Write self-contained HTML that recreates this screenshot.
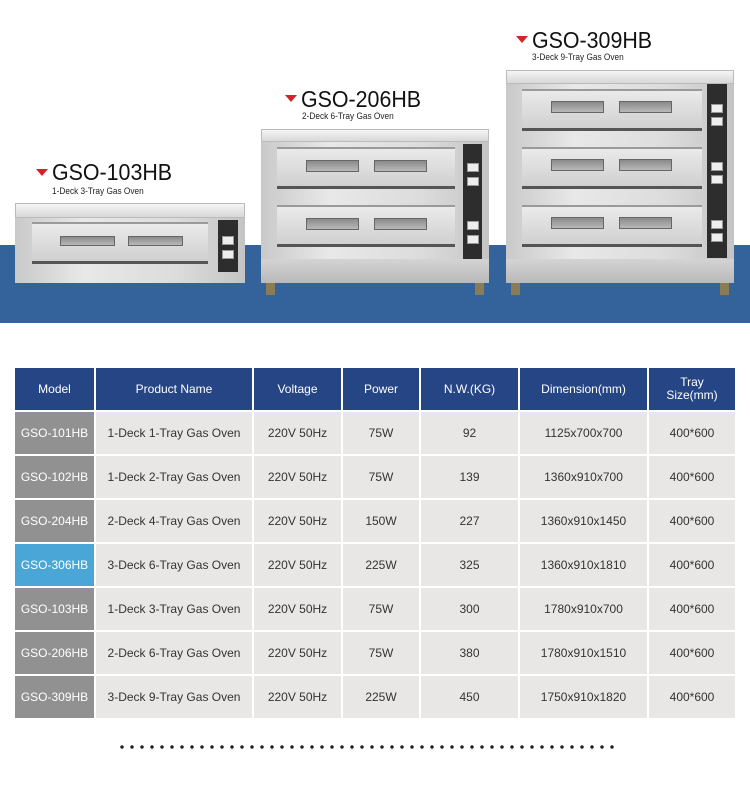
<!DOCTYPE html>
<html><head><meta charset="utf-8"><style>
*{margin:0;padding:0;box-sizing:border-box}
body{width:750px;height:786px;background:#fff;position:relative;overflow:hidden;font-family:"Liberation Sans",sans-serif}
.a{position:absolute}
.band{left:0;top:245px;width:750px;height:78px;background:#33639a}
.title{font-size:23px;color:#111;transform:scaleX(0.93);transform-origin:0 0;white-space:nowrap}
.sub{font-size:9px;color:#222;transform:scaleX(0.92);transform-origin:0 0;white-space:nowrap}
.tri{width:0;height:0;border-left:6px solid transparent;border-right:6px solid transparent;border-top:7px solid #d2232a}
.top{background:linear-gradient(#f4f4f4,#d8d8d8);border:1px solid #bbb}
.body{background:linear-gradient(90deg,#c9c9c9,#e8e8e8 30%,#dcdcdc 70%,#c4c4c4)}
.door{background:linear-gradient(#eaeaea,#d0d0d0);border-top:2px solid #9a9a9a;border-bottom:3px solid #555}
.win{background:linear-gradient(#8a8a8a,#b8b8b8);border:1px solid #666}
.ctl{background:#2d2d2d}
.knob{background:#eee;border:1px solid #999}
.base{background:linear-gradient(#d4d4d4,#b9b9b9)}
.wh{background:#8a7d55;width:9px;height:12px}
table{position:absolute;left:13px;top:366px;border-collapse:separate;border-spacing:2px}
td{font-size:12px;color:#333;text-align:center;background:#e8e7e6;height:42px;padding:0}
th{background:#254584;color:#fff;font-weight:normal;font-size:12px;height:42px;padding:0}
td.m{background:#919191;color:#fff}
td.b{background:#4aa6d6;color:#fff}
</style></head><body>
<div class="a band"></div>

<!-- Oven 1 -->
<div class="a tri" style="left:36px;top:169px"></div>
<div class="a title" style="left:52px;top:159px">GSO-103HB</div>
<div class="a sub" style="left:52px;top:186px">1-Deck 3-Tray Gas Oven</div>
<div class="a top" style="left:15px;top:203px;width:230px;height:15px"></div>
<div class="a body" style="left:15px;top:218px;width:230px;height:65px"></div>
<div class="a door" style="left:32px;top:222px;width:176px;height:42px"></div>
<div class="a win" style="left:60px;top:236px;width:55px;height:10px"></div>
<div class="a win" style="left:128px;top:236px;width:55px;height:10px"></div>
<div class="a ctl" style="left:218px;top:220px;width:20px;height:52px"></div>
<div class="a knob" style="left:222px;top:236px;width:12px;height:9px"></div>
<div class="a knob" style="left:222px;top:250px;width:12px;height:9px"></div>

<!-- Oven 2 -->
<div class="a tri" style="left:285px;top:95px"></div>
<div class="a title" style="left:301px;top:86px">GSO-206HB</div>
<div class="a sub" style="left:302px;top:111px">2-Deck 6-Tray Gas Oven</div>
<div class="a top" style="left:261px;top:129px;width:228px;height:13px"></div>
<div class="a body" style="left:261px;top:142px;width:228px;height:117px"></div>
<div class="a door" style="left:277px;top:147px;width:178px;height:42px"></div>
<div class="a door" style="left:277px;top:205px;width:178px;height:42px"></div>
<div class="a win" style="left:306px;top:160px;width:53px;height:12px"></div>
<div class="a win" style="left:374px;top:160px;width:53px;height:12px"></div>
<div class="a win" style="left:306px;top:218px;width:53px;height:12px"></div>
<div class="a win" style="left:374px;top:218px;width:53px;height:12px"></div>
<div class="a ctl" style="left:463px;top:144px;width:19px;height:115px"></div>
<div class="a knob" style="left:467px;top:163px;width:12px;height:9px"></div>
<div class="a knob" style="left:467px;top:177px;width:12px;height:9px"></div>
<div class="a knob" style="left:467px;top:221px;width:12px;height:9px"></div>
<div class="a knob" style="left:467px;top:235px;width:12px;height:9px"></div>
<div class="a base" style="left:261px;top:259px;width:228px;height:24px"></div>
<div class="a wh" style="left:266px;top:283px"></div>
<div class="a wh" style="left:475px;top:283px"></div>

<!-- Oven 3 -->
<div class="a tri" style="left:516px;top:36px"></div>
<div class="a title" style="left:532px;top:27px">GSO-309HB</div>
<div class="a sub" style="left:532px;top:52px">3-Deck 9-Tray Gas Oven</div>
<div class="a top" style="left:506px;top:70px;width:228px;height:14px"></div>
<div class="a body" style="left:506px;top:84px;width:228px;height:175px"></div>
<div class="a door" style="left:522px;top:89px;width:180px;height:42px"></div>
<div class="a door" style="left:522px;top:147px;width:180px;height:42px"></div>
<div class="a door" style="left:522px;top:205px;width:180px;height:42px"></div>
<div class="a win" style="left:551px;top:101px;width:53px;height:12px"></div>
<div class="a win" style="left:619px;top:101px;width:53px;height:12px"></div>
<div class="a win" style="left:551px;top:159px;width:53px;height:12px"></div>
<div class="a win" style="left:619px;top:159px;width:53px;height:12px"></div>
<div class="a win" style="left:551px;top:217px;width:53px;height:12px"></div>
<div class="a win" style="left:619px;top:217px;width:53px;height:12px"></div>
<div class="a ctl" style="left:707px;top:84px;width:20px;height:174px"></div>
<div class="a knob" style="left:711px;top:104px;width:12px;height:9px"></div>
<div class="a knob" style="left:711px;top:117px;width:12px;height:9px"></div>
<div class="a knob" style="left:711px;top:162px;width:12px;height:9px"></div>
<div class="a knob" style="left:711px;top:175px;width:12px;height:9px"></div>
<div class="a knob" style="left:711px;top:220px;width:12px;height:9px"></div>
<div class="a knob" style="left:711px;top:233px;width:12px;height:9px"></div>
<div class="a base" style="left:506px;top:259px;width:228px;height:24px"></div>
<div class="a wh" style="left:511px;top:283px"></div>
<div class="a wh" style="left:720px;top:283px"></div>

<table>
<tr><th style="width:79px">Model</th><th style="width:156px">Product Name</th><th style="width:87px">Voltage</th><th style="width:76px">Power</th><th style="width:97px">N.W.(KG)</th><th style="width:127px">Dimension(mm)</th><th style="width:86px;line-height:13px">Tray<br>Size(mm)</th></tr>
<tr><td class="m">GSO-101HB</td><td>1-Deck 1-Tray Gas Oven</td><td>220V 50Hz</td><td>75W</td><td>92</td><td>1125x700x700</td><td>400*600</td></tr>
<tr><td class="m">GSO-102HB</td><td>1-Deck 2-Tray Gas Oven</td><td>220V 50Hz</td><td>75W</td><td>139</td><td>1360x910x700</td><td>400*600</td></tr>
<tr><td class="m">GSO-204HB</td><td>2-Deck 4-Tray Gas Oven</td><td>220V 50Hz</td><td>150W</td><td>227</td><td>1360x910x1450</td><td>400*600</td></tr>
<tr><td class="b">GSO-306HB</td><td>3-Deck 6-Tray Gas Oven</td><td>220V 50Hz</td><td>225W</td><td>325</td><td>1360x910x1810</td><td>400*600</td></tr>
<tr><td class="m">GSO-103HB</td><td>1-Deck 3-Tray Gas Oven</td><td>220V 50Hz</td><td>75W</td><td>300</td><td>1780x910x700</td><td>400*600</td></tr>
<tr><td class="m">GSO-206HB</td><td>2-Deck 6-Tray Gas Oven</td><td>220V 50Hz</td><td>75W</td><td>380</td><td>1780x910x1510</td><td>400*600</td></tr>
<tr><td class="m">GSO-309HB</td><td>3-Deck 9-Tray Gas Oven</td><td>220V 50Hz</td><td>225W</td><td>450</td><td>1750x910x1820</td><td>400*600</td></tr>
</table>

<div class="a" style="left:120px;top:745px;width:496px;height:4px;background:radial-gradient(circle at 2px 2px,#222 1.5px,transparent 2px) 0 0/10px 4px repeat-x"></div>
</body></html>
